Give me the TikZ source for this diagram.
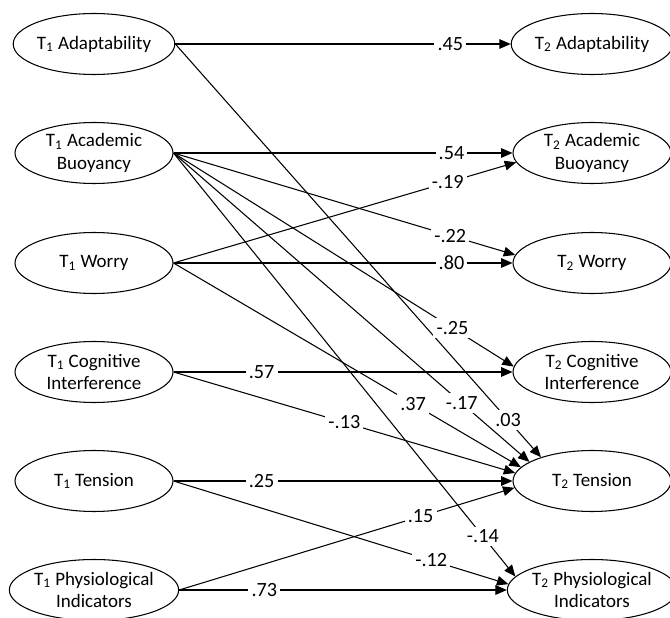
\documentclass[tikz,border=0pt]{standalone}
\usepackage{fontspec}
\setmainfont{Carlito}
\usetikzlibrary{shapes.geometric,arrows.meta}
\tikzset{
  var/.style={draw,ellipse,semithick,minimum width=3.16cm,minimum height=1.22cm,
    inner sep=0pt,align=center,font=\fontsize{10.8}{13}\selectfont},
  effect/.style={semithick,-{Triangle[length=6.5pt,width=5.5pt]}},
  coef/.style={fill=white,inner sep=1.8pt,font=\fontsize{11.5}{13}\selectfont}
}
\newcommand{\ta}{T\textsubscript{1}}
\newcommand{\tb}{T\textsubscript{2}}

\begin{document}
\begin{tikzpicture}[x=0.02cm,y=-0.02cm]
  \useasboundingbox (0,0) rectangle (670,618);
  % time 1 variables
  \node[var] (a1) at (94,44)  {\ta{} Adaptability};
  \node[var] (b1) at (94,153) {\ta{} Academic\\Buoyancy};
  \node[var] (w1) at (94,263) {\ta{} Worry};
  \node[var] (c1) at (94,372) {\ta{} Cognitive\\Interference};
  \node[var] (t1) at (94,481) {\ta{} Tension};
  \node[var] (p1) at (94,590) {\ta{} Physiological\\Indicators};
  % time 2 variables
  \node[var] (a2) at (592,44)  {\tb{} Adaptability};
  \node[var] (b2) at (592,153) {\tb{} Academic\\Buoyancy};
  \node[var] (w2) at (592,263) {\tb{} Worry};
  \node[var] (c2) at (592,372) {\tb{} Cognitive\\Interference};
  \node[var] (t2) at (592,481) {\tb{} Tension};
  \node[var] (p2) at (592,590) {\tb{} Physiological\\Indicators};
  % paths from T1 adaptability and buoyancy
  \draw[effect] (a1.east) -- node[coef,pos=.82] (a1a2) {.45} (a2.west);
  \draw[effect] (a1.east) -- node[coef,pos=.91] (a1t2) {.03} (t2.155);
  \draw[effect] (b1.east) -- node[coef,pos=.82] (b1b2) {.54} (b2.west);
  \draw[effect] (b1.east) -- node[coef,pos=.81] (b1w2) {-.22} (w2.174);
  \draw[effect] (b1.east) -- node[coef,pos=.82] (b1c2) {-.25} (c2.176);
  \draw[effect] (b1.east) -- node[coef,pos=.81] (b1t2) {-.17} (t2.163);
  \draw[effect] (b1.east) -- node[coef,pos=.905] (b1p2) {-.14} (p2.170);
  % paths from T1 anxiety components
  \draw[effect] (w1.east) -- node[coef,pos=.82] (w1w2) {.80} (w2.west);
  \draw[effect] (w1.east) -- node[coef,pos=.80] (w1b2) {-.19} (b2.187);
  \draw[effect] (w1.east) -- node[coef,pos=.69] (w1t2) {.37} (t2.169);
  \draw[effect] (c1.east) -- node[coef,pos=.26] (c1c2) {.57} (c2.west);
  \draw[effect] (c1.east) -- node[coef,pos=.5]  (c1t2) {-.13} (t2.174);
  \draw[effect] (t1.east) -- node[coef,pos=.26] (t1t2) {.25} (t2.west);
  \draw[effect] (t1.east) -- node[coef,pos=.77] (t1p2) {-.12} (p2.176);
  \draw[effect] (p1.east) -- node[coef,pos=.72] (p1t2) {.15} (t2.185);
  \draw[effect] (p1.east) -- node[coef,pos=.26] (p1p2) {.73} (p2.west);
\end{tikzpicture}
\end{document}
